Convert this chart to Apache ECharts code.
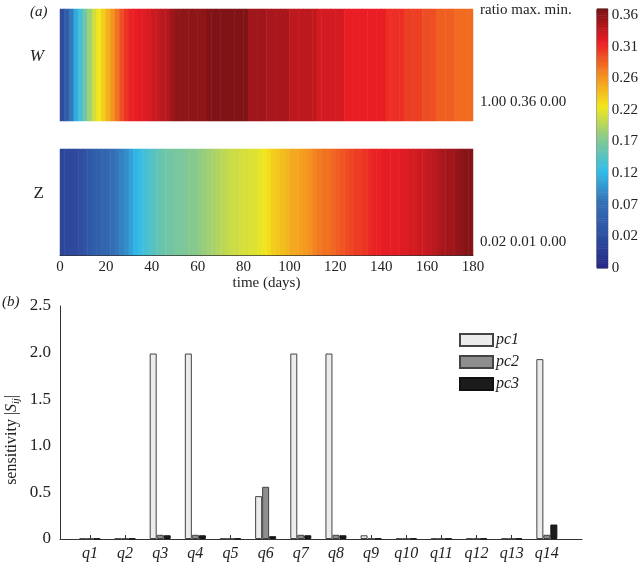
<!DOCTYPE html>
<html>
<head>
<meta charset="utf-8">
<script src="https://cdn.jsdelivr.net/npm/echarts@6/dist/echarts.min.js"></script>
<style>html,body{margin:0;padding:0;background:#fff}#chart{width:641px;height:562px}</style>
</head>
<body>
<div id="chart"></div>
<script>
// panel (a): W and Z over time, one value per 2-day cell
const rowNames = ['W', 'Z'];
const wValues = [
  0.040, 0.065, 0.095, 0.125, 0.145, 0.170, 0.190, 0.210, 0.225, 0.238,
  0.252, 0.266, 0.280, 0.295, 0.306, 0.313, 0.316, 0.318, 0.320, 0.322,
  0.328, 0.331, 0.335, 0.338, 0.346, 0.353, 0.353, 0.353, 0.353, 0.353,
  0.353, 0.353, 0.359, 0.359, 0.359, 0.359, 0.359, 0.359, 0.359, 0.359,
  0.359, 0.346, 0.346, 0.346, 0.346, 0.342, 0.342, 0.342, 0.342, 0.342,
  0.333, 0.333, 0.333, 0.333, 0.333, 0.333, 0.324, 0.324, 0.324, 0.324,
  0.324, 0.324, 0.315, 0.315, 0.315, 0.315, 0.315, 0.315, 0.315, 0.315,
  0.315, 0.308, 0.308, 0.308, 0.308, 0.301, 0.301, 0.301, 0.301, 0.295,
  0.295, 0.295, 0.288, 0.288, 0.288, 0.288, 0.283, 0.283, 0.283, 0.283
];
const zValues = [
  0.0009, 0.0010, 0.0010, 0.0011, 0.0012, 0.0014, 0.0016, 0.0018, 0.0019, 0.0021,
  0.0022, 0.0024, 0.0026, 0.0028, 0.0030, 0.0033, 0.0036, 0.0038, 0.0040, 0.0042,
  0.0043, 0.0045, 0.0046, 0.0047, 0.0047, 0.0048, 0.0048, 0.0049, 0.0050, 0.0050,
  0.0051, 0.0052, 0.0053, 0.0054, 0.0055, 0.0056, 0.0057, 0.0058, 0.0058, 0.0059,
  0.0059, 0.0060, 0.0060, 0.0061, 0.0062, 0.0064, 0.0066, 0.0067, 0.0068, 0.0069,
  0.0071, 0.0071, 0.0072, 0.0073, 0.0074, 0.0076, 0.0077, 0.0078, 0.0078, 0.0079,
  0.0080, 0.0081, 0.0082, 0.0083, 0.0084, 0.0084, 0.0085, 0.0086, 0.0087, 0.0087,
  0.0088, 0.0088, 0.0088, 0.0088, 0.0089, 0.0089, 0.0090, 0.0090, 0.0091, 0.0091,
  0.0092, 0.0093, 0.0094, 0.0095, 0.0096, 0.0096, 0.0097, 0.0098, 0.0099, 0.0099
];
const statHeader = ['ratio', 'max.', 'min.'];
const wStats = ['1.00', '0.36', '0.00'];
const zStats = ['0.02', '0.01', '0.00'];
const colorbarLabels = ['0', '0.02', '0.07', '0.12', '0.17', '0.22', '0.26', '0.31', '0.36'];

// panel (b): sensitivities
const params = ['q1', 'q2', 'q3', 'q4', 'q5', 'q6', 'q7', 'q8', 'q9', 'q10', 'q11', 'q12', 'q13', 'q14'];
const pc1 = [0.005, 0.005, 1.99, 1.99, 0.005, 0.46, 1.99, 1.99, 0.04, 0.005, 0.005, 0.005, 0.005, 1.93];
const pc2 = [0.005, 0.005, 0.045, 0.045, 0.005, 0.56, 0.045, 0.045, 0.005, 0.005, 0.005, 0.005, 0.005, 0.045];
const pc3 = [0.005, 0.005, 0.04, 0.04, 0.005, 0.03, 0.04, 0.04, 0.005, 0.005, 0.005, 0.005, 0.005, 0.155];

const jet = ['#262a86', '#2f4fa2', '#3470b6', '#32bdea', '#86c98e', '#f2e71c', '#f48b20', '#ea1d25', '#7d1316'];
const serif = 'Liberation Serif';
const ink = '#222';

const cellDays = wValues.map((v, i) => String(i * 2));
const barCells = [];
for (let i = 0; i < 120; i++) barCells.push(i);

const chart = echarts.init(document.getElementById('chart'));

const rowAxis = (idx, name, italic) => ({
  gridIndex: idx, type: 'category', data: [name],
  axisLine: { show: false },
  axisTick: { show: true, inside: true, length: 3, alignWithLabel: true, lineStyle: { color: '#444' } },
  axisLabel: {
    fontFamily: serif, fontSize: 17, fontStyle: italic ? 'italic' : 'normal', color: ink,
    margin: 16, verticalAlign: 'bottom', lineHeight: 16
  }
});

chart.setOption({
  animation: false,
  grid: [
    { left: 60, top: 9, width: 413, height: 112 },
    { left: 60, top: 149, width: 413, height: 106 },
    { left: 597, top: 9, width: 13, height: 259, show: true, borderColor: '#333', borderWidth: 1 },
    { left: 60, top: 306, width: 522, height: 238 }
  ],
  visualMap: [
    { show: false, seriesIndex: 0, min: 0, max: 0.36, inRange: { color: jet } },
    { show: false, seriesIndex: 1, min: 0, max: 0.01, inRange: { color: jet } },
    { show: false, seriesIndex: 2, min: 0, max: 119, inRange: { color: jet } }
  ],
  xAxis: [
    { gridIndex: 0, type: 'category', data: cellDays, show: false },
    { gridIndex: 1, type: 'category', data: cellDays, show: false },
    {
      gridIndex: 1, type: 'value', min: 0, max: 180, interval: 20, position: 'bottom',
      axisLine: { show: true, lineStyle: { color: '#333' } },
      axisTick: { inside: true, length: 4, lineStyle: { color: '#333' } },
      splitLine: { show: false },
      axisLabel: { fontFamily: serif, fontSize: 15, color: ink, margin: 5 },
      name: 'time (days)', nameLocation: 'middle', nameGap: 16,
      nameTextStyle: { fontFamily: serif, fontSize: 15, color: ink, verticalAlign: 'top' }
    },
    { gridIndex: 2, type: 'category', data: [''], show: false },
    {
      gridIndex: 3, type: 'value', min: 0.15, max: 15,
      axisLine: { show: true, lineStyle: { color: '#333' } },
      axisTick: { inside: true, length: 4, customValues: params.map((p, i) => i + 1), lineStyle: { color: '#333' } },
      splitLine: { show: false },
      axisLabel: {
        customValues: params.map((p, i) => i + 1),
        formatter: v => params[Math.round(v) - 1],
        fontFamily: serif, fontStyle: 'italic', fontSize: 16, color: ink, margin: 7
      }
    }
  ],
  yAxis: [
    rowAxis(0, rowNames[0], true),
    rowAxis(1, rowNames[1], false),
    { gridIndex: 2, type: 'category', data: barCells, show: false },
    {
      gridIndex: 2, type: 'value', min: 0, max: 8.19, interval: 1, position: 'right',
      axisLine: { show: false },
      axisTick: { inside: true, length: 3, lineStyle: { color: '#333' } },
      splitLine: { show: false },
      axisLabel: { formatter: v => colorbarLabels[v] || '', fontFamily: serif, fontSize: 15, color: ink, margin: 4 }
    },
    {
      gridIndex: 2, type: 'value', min: 0, max: 8.19, interval: 1, position: 'left',
      axisLine: { show: false },
      axisTick: { inside: true, length: 3, lineStyle: { color: '#333' } },
      splitLine: { show: false },
      axisLabel: { show: false }
    },
    {
      gridIndex: 3, type: 'value', min: 0, max: 2.5, interval: 0.5,
      axisLine: { show: true, lineStyle: { color: '#333' } },
      axisTick: { show: false },
      splitLine: { show: false },
      axisLabel: { formatter: v => (v === 0 ? '0' : v.toFixed(1)), fontFamily: serif, fontSize: 17, color: ink, margin: 9 }
    }
  ],
  legend: {
    data: ['pc1', 'pc2', 'pc3'], orient: 'vertical', left: 459, top: 332, padding: 0,
    itemWidth: 33, itemHeight: 12, itemGap: 6, icon: 'rect', selectedMode: false,
    textStyle: { fontFamily: serif, fontStyle: 'italic', fontSize: 16, color: ink, padding: [0, 0, 0, -2] }
  },
  graphic: [
    { type: 'text', left: 30, top: 5, style: { text: '(a)', font: 'italic 15px "Liberation Serif"', fill: ink } },
    { type: 'text', left: 2, top: 295, style: { text: '(b)', font: 'italic 15px "Liberation Serif"', fill: ink } },
    { type: 'text', left: 480, top: 3, style: { text: statHeader.join(' '), font: '15px "Liberation Serif"', fill: ink } },
    { type: 'text', left: 480, top: 95, style: { text: wStats.join(' '), font: '15px "Liberation Serif"', fill: ink } },
    { type: 'text', left: 480, top: 235, style: { text: zStats.join(' '), font: '15px "Liberation Serif"', fill: ink } },
    {
      type: 'text', x: 12, y: 440, rotation: Math.PI / 2,
      style: {
        text: 'sensitivity |{it|S}{sub|ij}|', align: 'center', verticalAlign: 'middle',
        font: '16px "Liberation Serif"', fill: ink,
        rich: {
          it: { fontFamily: serif, fontSize: 16, fontStyle: 'italic', fill: ink },
          sub: { fontFamily: serif, fontSize: 10, fontStyle: 'italic', fill: ink, padding: [8, 0, 0, 0] }
        }
      }
    }
  ],
  series: [
    {
      type: 'heatmap', xAxisIndex: 0, yAxisIndex: 0,
      data: wValues.map((v, i) => [i, 0, v]), emphasis: { disabled: true }
    },
    {
      type: 'heatmap', xAxisIndex: 1, yAxisIndex: 1,
      data: zValues.map((v, i) => [i, 0, v]), emphasis: { disabled: true }
    },
    {
      type: 'heatmap', xAxisIndex: 3, yAxisIndex: 2,
      data: barCells.map(i => [0, i, i]), emphasis: { disabled: true }
    },
    {
      type: 'bar', name: 'pc1', xAxisIndex: 4, yAxisIndex: 5, barWidth: 7, barGap: '0%',
      data: pc1.map((v, i) => [i + 1, v]),
      itemStyle: { color: '#ececec', borderColor: '#444', borderWidth: 1 }
    },
    {
      type: 'bar', name: 'pc2', xAxisIndex: 4, yAxisIndex: 5, barWidth: 7, barGap: '0%',
      data: pc2.map((v, i) => [i + 1, v]),
      itemStyle: { color: '#8e8e8e', borderColor: '#444', borderWidth: 1 }
    },
    {
      type: 'bar', name: 'pc3', xAxisIndex: 4, yAxisIndex: 5, barWidth: 7, barGap: '0%',
      data: pc3.map((v, i) => [i + 1, v]),
      itemStyle: { color: '#1c1c1c', borderColor: '#111', borderWidth: 1 }
    }
  ]
});
</script>
</body>
</html>
